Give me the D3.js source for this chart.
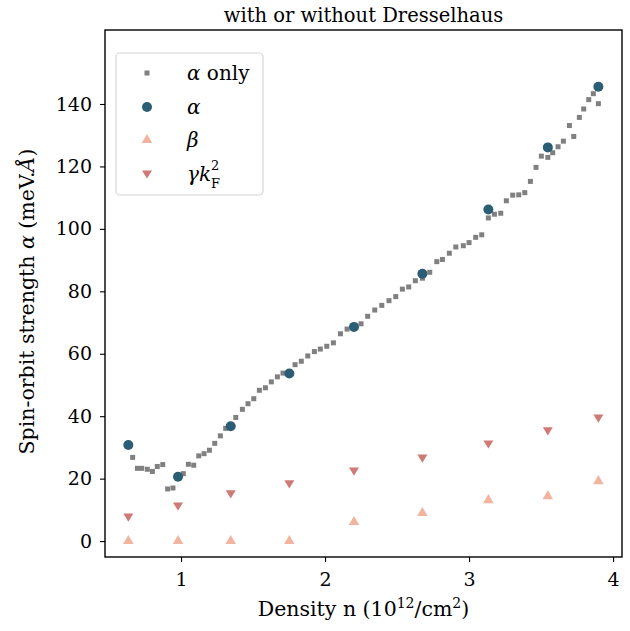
<!DOCTYPE html>
<html lang="en">
<head>
<meta charset="utf-8">
<title>with or without Dresselhaus</title>
<script src="https://d3js.org/d3.v7.min.js"></script>
<style>
  body { margin: 0; background: #fff; }
  text { font-family: "DejaVu Serif", "Liberation Serif", serif; fill: #000; }
</style>
</head>
<body>
<div id="chart"></div>
<script>
// density points of the four series
const densityFit = [0.634, 0.979, 1.345, 1.752, 2.201, 2.676, 3.134, 3.547, 3.898]
const alphaFit = [30.8, 20.6, 36.8, 53.7, 68.6, 85.6, 106.2, 126.1, 145.5]
const betaFit = [0, 0, 0, 0, 6.1, 9.0, 13.1, 14.4, 19.2]
const gammaFit = [7.7, 11.2, 15.1, 18.3, 22.4, 26.6, 31.1, 35.3, 39.4]

// alpha only fit (dense sweep)
const densityOnly = [0.664, 0.697, 0.727, 0.766, 0.801, 0.835, 0.873, 0.907, 0.944, 1.016,
  1.051, 1.088, 1.123, 1.160, 1.197, 1.234, 1.273, 1.310, 1.380, 1.426,
  1.465, 1.505, 1.544, 1.586, 1.627, 1.669, 1.708, 1.792, 1.835, 1.880,
  1.926, 1.967, 2.012, 2.058, 2.107, 2.153, 2.250, 2.296, 2.345, 2.394,
  2.444, 2.491, 2.537, 2.581, 2.627, 2.676, 2.727, 2.776, 2.815, 2.863,
  2.908, 2.960, 3.000, 3.046, 3.088, 3.134, 3.176, 3.220, 3.259, 3.303,
  3.345, 3.387, 3.426, 3.465, 3.502, 3.547, 3.581, 3.618, 3.655, 3.697,
  3.727, 3.766, 3.796, 3.831, 3.863, 3.898]
const alphaOnly = [26.8, 23.3, 23.3, 23.0, 22.3, 23.9, 24.5, 16.7, 17.0, 21.6,
  24.6, 24.3, 27.3, 28.0, 29.1, 31.3, 33.7, 36.1, 39.6, 42.2,
  44.0, 45.6, 48.3, 49.1, 51.0, 52.6, 53.8, 56.5, 57.6, 59.3,
  60.7, 61.5, 62.4, 63.5, 66.4, 67.9, 69.6, 72.0, 74.0, 75.5,
  77.0, 78.3, 80.7, 81.4, 83.4, 84.2, 86.1, 89.5, 90.2, 92.2,
  94.2, 94.6, 95.6, 97.3, 98.1, 103.5, 104.7, 105.0, 109.0, 110.8,
  110.9, 111.6, 115.2, 119.7, 123.3, 122.9, 124.4, 126.3, 128.1, 133.1,
  129.6, 135.7, 138.4, 141.4, 143.3, 140.1]

const xTicks = [1, 2, 3, 4]
const yTicks = [0, 20, 40, 60, 80, 100, 120, 140]

const width = 630
const height = 631
const margins = { top: 30, right: 8, bottom: 74, left: 105 }

const colors = {
  only: "#808080",
  alpha: "#2b5d74",
  beta: "#f2b49e",
  gamma: "#d07a78"
}

const svg = d3.select("#chart")
  .append("svg")
  .attr("width", width)
  .attr("height", height)

const x = d3.scaleLinear()
  .domain([0.472, 4.062])
  .range([margins.left, width - margins.right])

const y = d3.scaleLinear()
  .domain([-5.1, 163.7])
  .range([height - margins.bottom, margins.top])

// axes
const xAxis = svg.append("g")
  .attr("transform", "translate(0," + (height - margins.bottom) + ")")
  .call(d3.axisBottom(x).tickValues(xTicks).tickFormat(d3.format("d")).tickSize(5).tickPadding(7))
const yAxis = svg.append("g")
  .attr("transform", "translate(" + margins.left + ",0)")
  .call(d3.axisLeft(y).tickValues(yTicks).tickFormat(d3.format("d")).tickSize(5).tickPadding(8))

for (const ax of [xAxis, yAxis]) {
  ax.select(".domain").remove()
  ax.selectAll("line").attr("stroke", "#000").attr("stroke-width", 1.1)
  ax.selectAll("text").style("font-size", "19px").attr("fill", "#000")
}
xAxis.selectAll("text").attr("dy", "0.9em")

// frame
svg.append("rect")
  .attr("x", margins.left)
  .attr("y", margins.top)
  .attr("width", width - margins.left - margins.right)
  .attr("height", height - margins.top - margins.bottom)
  .attr("fill", "none")
  .attr("stroke", "#000")
  .attr("stroke-width", 1.4)

const plot = svg.append("g")

const sq = 5
plot.selectAll(".only")
  .data(d3.zip(densityOnly, alphaOnly))
  .enter()
  .append("rect")
  .attr("x", d => x(d[0]) - sq / 2)
  .attr("y", d => y(d[1]) - sq / 2)
  .attr("width", sq)
  .attr("height", sq)
  .attr("fill", colors.only)

const triUp = d3.symbol().type(d3.symbolTriangle).size(48)
const triDown = "M-5,-3.6L5,-3.6L0,4.6Z"

plot.selectAll(".beta")
  .data(d3.zip(densityFit, betaFit))
  .enter()
  .append("path")
  .attr("d", triUp)
  .attr("transform", d => "translate(" + x(d[0]) + "," + y(d[1]) + ")")
  .attr("fill", colors.beta)

plot.selectAll(".gamma")
  .data(d3.zip(densityFit, gammaFit))
  .enter()
  .append("path")
  .attr("d", triDown)
  .attr("transform", d => "translate(" + x(d[0]) + "," + y(d[1]) + ")")
  .attr("fill", colors.gamma)

plot.selectAll(".alpha")
  .data(d3.zip(densityFit, alphaFit))
  .enter()
  .append("circle")
  .attr("cx", d => x(d[0]))
  .attr("cy", d => y(d[1]))
  .attr("r", 5)
  .attr("fill", colors.alpha)

// legend
const legend = svg.append("g")
legend.append("rect")
  .attr("x", 116)
  .attr("y", 53)
  .attr("width", 147)
  .attr("height", 142)
  .attr("rx", 4)
  .attr("fill", "#fff")
  .attr("fill-opacity", 0.8)
  .attr("stroke", "#d6d6d6")
  .attr("stroke-width", 1.2)

const lx = 147
const tx = 187
legend.append("rect").attr("x", lx - 2.5).attr("y", 73 - 2.5).attr("width", sq).attr("height", sq).attr("fill", colors.only)
legend.append("circle").attr("cx", lx).attr("cy", 107).attr("r", 5).attr("fill", colors.alpha)
legend.append("path").attr("d", triUp).attr("transform", "translate(" + lx + ",140)").attr("fill", colors.beta)
legend.append("path").attr("d", triDown).attr("transform", "translate(" + lx + ",174)").attr("fill", colors.gamma)

const lt1 = legend.append("text").attr("x", tx).attr("y", 80).style("font-size", "20px")
lt1.append("tspan").style("font-style", "italic").text("α")
lt1.append("tspan").text(" only")
legend.append("text").attr("x", tx).attr("y", 114).style("font-size", "20px").style("font-style", "italic").text("α")
legend.append("text").attr("x", tx).attr("y", 147).style("font-size", "20px").style("font-style", "italic").text("β")
legend.append("text").attr("x", tx).attr("y", 181).style("font-size", "20px").style("font-style", "italic").text("γk")
legend.append("text").attr("x", tx + 24).attr("y", 170).style("font-size", "13px").text("2")
legend.append("text").attr("x", tx + 24).attr("y", 188).style("font-size", "13px").text("F")

// title and axis labels
svg.append("text")
  .attr("x", (margins.left + width - margins.right) / 2)
  .attr("y", 22)
  .attr("text-anchor", "middle")
  .style("font-size", "19.5px")
  .text("with or without Dresselhaus")

const xl = svg.append("text")
  .attr("x", (margins.left + width - margins.right) / 2)
  .attr("y", 616)
  .attr("text-anchor", "middle")
  .style("font-size", "20.5px")
xl.append("tspan").text("Density n (10")
xl.append("tspan").attr("dy", -8).style("font-size", "14px").text("12")
xl.append("tspan").attr("dy", 8).text("/cm")
xl.append("tspan").attr("dy", -8).style("font-size", "14px").text("2")
xl.append("tspan").attr("dy", 8).text(")")

const yl = svg.append("text")
  .attr("transform", "translate(34," + ((margins.top + height - margins.bottom) / 2 + 8) + ") rotate(-90)")
  .attr("text-anchor", "middle")
  .style("font-size", "20.5px")
yl.append("tspan").text("Spin-orbit strength ")
yl.append("tspan").style("font-style", "italic").text("α")
yl.append("tspan").text(" (meV.")
yl.append("tspan").style("font-style", "italic").text("Å")
yl.append("tspan").text(")")
</script>
</body>
</html>
